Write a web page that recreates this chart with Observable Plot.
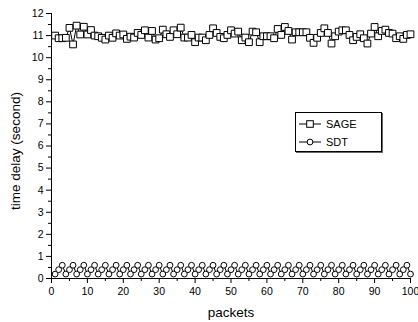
<!DOCTYPE html>
<html>
<head>
<meta charset="utf-8">
<script src="https://cdn.jsdelivr.net/npm/d3@7"></script>
<script src="https://cdn.jsdelivr.net/npm/@observablehq/plot@0.6"></script>
<style>
  html, body { margin: 0; padding: 0; background: #fff; }
  #wrap { position: relative; width: 418px; height: 322px; font-family: "Liberation Sans", Arial, sans-serif; }
  #legend { position: absolute; left: 295px; top: 112px; width: 85px; height: 38px; border: 1px solid #000;
    box-shadow: 1px 1px 0 #666; background: #fff; font-size: 11px; color: #000; }
  .row { position: absolute; left: 0; height: 14px; display: flex; align-items: center; }
  .row svg { display: block; }
  .row span { margin-left: 3px; }
</style>
</head>
<body>
<div id="wrap"></div>
<script>
const seriesNames = ["SAGE", "SDT"];
const sage = [11.0, 10.88, 10.88, 10.9, 11.35, 10.6, 11.45, 11.05, 11.4, 11.05, 11.25, 11.0, 10.97, 10.9, 10.82, 11.0, 10.9, 11.1, 11.0, 11.05, 10.85, 10.95,
  10.91, 11.12, 11.03, 11.24, 10.91, 11.21, 10.82, 10.88, 11.27, 11.06, 10.94, 11.24, 11.06, 11.36, 10.91, 10.91, 11.03, 10.7, 10.91, 10.91,
  10.79, 11.03, 11.33, 11.12, 10.94, 10.88, 11.03, 11.24, 11.09, 11.18, 10.79, 10.91, 10.7, 11.18, 11.15, 10.7, 10.97, 10.97, 10.97, 10.88, 11.3,
  11.03, 11.39, 11.21, 10.82, 11.15, 11.15, 11.15, 11.15, 10.9, 10.67, 10.9, 11.12, 11.33, 11.12, 10.64, 10.97, 11.18, 11.24, 11.24, 11.03,
  10.79, 10.94, 11.06, 10.88, 10.64, 11.09, 11.39, 10.97, 11.21, 11.27, 11.12, 11.09, 10.88, 10.97, 10.85, 11.03, 11.06];
const sdt = [0.2, 0.4, 0.6, 0.2, 0.4, 0.6, 0.2, 0.4, 0.6, 0.2, 0.4, 0.6, 0.2, 0.4, 0.6, 0.2, 0.4, 0.6, 0.2, 0.4,
  0.6, 0.2, 0.4, 0.6, 0.2, 0.4, 0.6, 0.2, 0.4, 0.6, 0.2, 0.4, 0.6, 0.2, 0.4, 0.6, 0.2, 0.4, 0.6, 0.2,
  0.4, 0.6, 0.2, 0.4, 0.6, 0.2, 0.4, 0.6, 0.2, 0.4, 0.6, 0.2, 0.4, 0.6, 0.2, 0.4, 0.6, 0.2, 0.4, 0.6,
  0.2, 0.4, 0.6, 0.2, 0.4, 0.6, 0.2, 0.4, 0.6, 0.2, 0.4, 0.6, 0.2, 0.4, 0.6, 0.2, 0.4, 0.6, 0.2, 0.4,
  0.6, 0.2, 0.4, 0.6, 0.2, 0.4, 0.6, 0.2, 0.4, 0.6, 0.2, 0.4, 0.6, 0.2, 0.4, 0.6, 0.2, 0.4, 0.6, 0.2];
const xTicks = [0, 10, 20, 30, 40, 50, 60, 70, 80, 90, 100];
const xMinor = [5, 15, 25, 35, 45, 55, 65, 75, 85, 95];
const yTicks = [0, 1, 2, 3, 4, 5, 6, 7, 8, 9, 10, 11, 12];
const yMinor = [0.5, 1.5, 2.5, 3.5, 4.5, 5.5, 6.5, 7.5, 8.5, 9.5, 10.5, 11.5];
const xLabel = "packets";
const yLabel = "time delay (second)";

const sageData = sage.map((v, i) => ({packet: i + 1, delay: v}));
const sdtData = sdt.map((v, i) => ({packet: i + 1, delay: v}));

const chart = Plot.plot({
  width: 418,
  height: 322,
  marginLeft: 51,
  marginRight: 8,
  marginTop: 13,
  marginBottom: 44,
  style: {fontFamily: "'Liberation Sans', Arial, sans-serif", fontSize: "10.5px", color: "#000", background: "#fff", overflow: "visible"},
  x: {domain: [0, 100]},
  y: {domain: [0, 12]},
  marks: [
    Plot.axisX({ticks: xTicks, tickSize: 5, tickPadding: 4, label: null}),
    Plot.axisX({ticks: xMinor, tickSize: 3, tickFormat: () => "", label: null}),
    Plot.axisY({ticks: yTicks, tickSize: 5, tickPadding: 3, label: null}),
    Plot.axisY({ticks: yMinor, tickSize: 3, tickFormat: () => "", label: null}),
    Plot.ruleX([0], {stroke: "#000"}),
    Plot.ruleY([0], {stroke: "#000"}),
    Plot.line(sageData, {x: "packet", y: "delay", stroke: "#000", strokeWidth: 1}),
    Plot.dot(sageData, {x: "packet", y: "delay", symbol: "square", r: 3.8, fill: "#fff", stroke: "#000", strokeWidth: 1}),
    Plot.line(sdtData, {x: "packet", y: "delay", stroke: "#000", strokeWidth: 1}),
    Plot.dot(sdtData, {x: "packet", y: "delay", symbol: "circle", r: 2.9, fill: "#fff", stroke: "#000", strokeWidth: 1}),
    Plot.text([xLabel], {text: d => d, frameAnchor: "bottom", lineAnchor: "middle", dy: 34, fontSize: 13.5}),
    Plot.text([yLabel], {text: d => d, frameAnchor: "left", textAnchor: "middle", lineAnchor: "middle", dx: -36, dy: 5, rotate: -90, fontSize: 13.5})
  ]
});

const wrap = document.getElementById("wrap");
wrap.appendChild(chart);

const legend = document.createElement("div");
legend.id = "legend";
const symbols = ["square", "circle"];
seriesNames.forEach((name, i) => {
  const row = document.createElement("div");
  row.className = "row";
  row.style.top = (4 + i * 18) + "px";
  const svgNS = "http://www.w3.org/2000/svg";
  const s = document.createElementNS(svgNS, "svg");
  s.setAttribute("width", 27);
  s.setAttribute("height", 14);
  const ln = document.createElementNS(svgNS, "line");
  ln.setAttribute("x1", 3); ln.setAttribute("x2", 25); ln.setAttribute("y1", 7); ln.setAttribute("y2", 7);
  ln.setAttribute("stroke", "#000");
  s.appendChild(ln);
  let m;
  if (symbols[i] === "square") {
    m = document.createElementNS(svgNS, "rect");
    m.setAttribute("x", 10.7); m.setAttribute("y", 3.7); m.setAttribute("width", 6.6); m.setAttribute("height", 6.6);
  } else {
    m = document.createElementNS(svgNS, "circle");
    m.setAttribute("cx", 14); m.setAttribute("cy", 7); m.setAttribute("r", 2.9);
  }
  m.setAttribute("fill", "#fff"); m.setAttribute("stroke", "#000");
  s.appendChild(m);
  row.appendChild(s);
  const t = document.createElement("span");
  t.textContent = name;
  row.appendChild(t);
  legend.appendChild(row);
});
wrap.appendChild(legend);
</script>
</body>
</html>
